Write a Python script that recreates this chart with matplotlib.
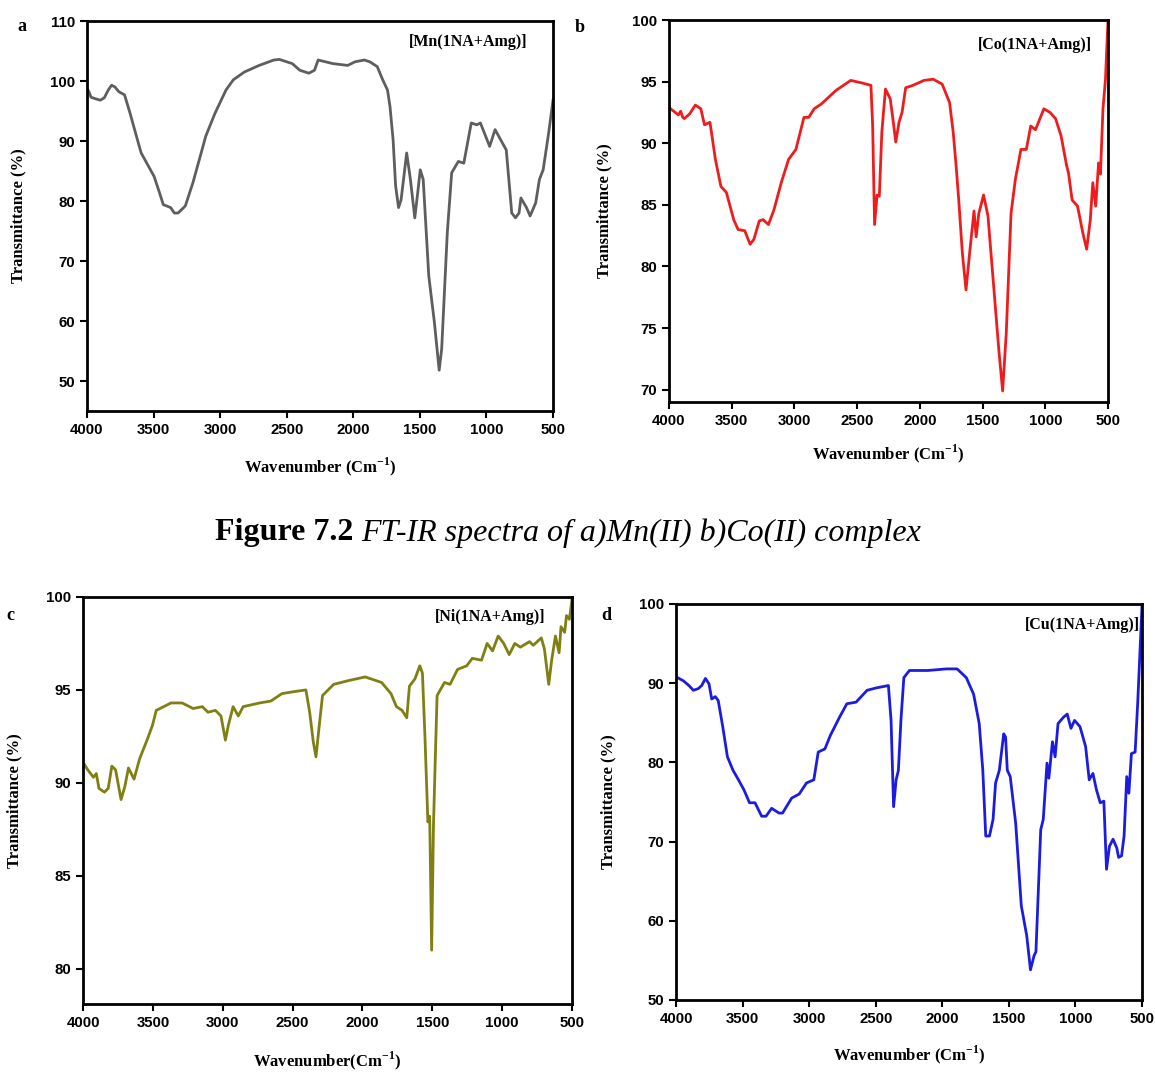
import matplotlib
matplotlib.use('Agg')
from matplotlib import pyplot as plt

# ---- data (wavenumber cm-1, transmittance %) ----
mn_wn = [4000, 3985, 3970, 3930, 3900, 3870, 3840, 3815, 3790, 3760, 3718, 3676, 3621, 3593,
         3538, 3496, 3454, 3427, 3371, 3344, 3316, 3274, 3261, 3205, 3150, 3108, 3039, 2956,
         2901, 2818, 2707, 2596, 2555, 2458, 2402, 2333, 2291, 2264, 2153, 2042, 1987, 1917,
         1876, 1820, 1779, 1743, 1724, 1701, 1682, 1660, 1641, 1599, 1571, 1538, 1516, 1497,
         1475, 1433, 1391, 1355, 1336, 1294, 1261, 1211, 1170, 1114, 1073, 1045, 976, 935,
         893, 851, 810, 782, 755, 741, 699, 672, 630, 602, 574, 533, 500]
mn_t = [98.8, 98.2, 97.3, 97.0, 96.8, 97.2, 98.5, 99.3, 99.0, 98.2, 97.7, 94.6, 90.2, 88.0,
        85.8, 84.1, 81.3, 79.4, 78.9, 78.0, 78.0, 78.9, 79.2, 83.0, 87.4, 90.8, 94.6, 98.5,
        100.2, 101.5, 102.6, 103.5, 103.6, 102.9, 101.8, 101.3, 101.8, 103.5, 102.9, 102.6, 103.2, 103.5,
        103.2, 102.4, 100.2, 98.5, 95.7, 90.2, 82.5, 78.9, 80.2, 88.0, 83.6, 77.2, 81.4, 85.2,
        83.6, 67.5, 59.8, 51.8, 55.4, 74.7, 84.7, 86.6, 86.3, 93.0, 92.7, 93.0, 89.1, 91.9,
        90.2, 88.5, 78.0, 77.2, 78.0, 80.5, 78.9, 77.5, 79.7, 83.6, 85.2, 91.3, 96.8]

co_wn = [4000, 3950, 3925, 3907, 3890, 3877, 3834, 3790, 3746, 3717, 3673, 3630, 3586, 3542,
         3484, 3449, 3396, 3353, 3323, 3280, 3250, 3207, 3163, 3105, 3046, 2988, 2924, 2886,
         2842, 2784, 2667, 2551, 2463, 2390, 2376, 2361, 2341, 2323, 2303, 2274, 2236, 2215,
         2192, 2166, 2142, 2113, 2055, 1967, 1894, 1822, 1763, 1734, 1711, 1690, 1661, 1632,
         1603, 1568, 1551, 1530, 1492, 1457, 1413, 1370, 1340, 1311, 1273, 1238, 1194, 1151,
         1116, 1078, 1011, 962, 918, 874, 830, 815, 786, 743, 700, 670, 641, 621, 598, 575,
         560, 540, 520, 500]
co_t = [92.9, 92.5, 92.3, 92.6, 92.1, 92.0, 92.4, 93.1, 92.8, 91.5, 91.7, 88.7, 86.5, 86.0,
        83.8, 83.0, 82.9, 81.8, 82.2, 83.7, 83.8, 83.4, 84.6, 86.8, 88.7, 89.5, 92.1, 92.1,
        92.8, 93.2, 94.3, 95.1, 94.9, 94.7, 91.4, 83.4, 85.8, 85.7, 90.9, 94.4, 93.6, 92.0,
        90.1, 91.7, 92.5, 94.5, 94.7, 95.1, 95.2, 94.8, 93.3, 90.9, 88.2, 85.4, 81.1, 78.1,
        81.1, 84.5, 82.4, 84.3, 85.8, 84.1, 78.6, 73.2, 69.9, 74.6, 84.3, 87.1, 89.5, 89.5,
        91.4, 91.1, 92.8, 92.5, 92.0, 90.6, 88.2, 87.6, 85.4, 84.9, 82.7, 81.4, 83.8, 86.8, 84.9, 88.4,
        87.5, 92.8, 95.2, 100.0]

ni_wn = [4000, 3966, 3926, 3905, 3886, 3847, 3820, 3794, 3767, 3728, 3701, 3675, 3635, 3595,
         3542, 3503, 3476, 3423, 3370, 3291, 3212, 3146, 3106, 3053, 3013, 2981, 2960, 2926,
         2889, 2854, 2736, 2656, 2577, 2497, 2405, 2378, 2352, 2333, 2312, 2286, 2206, 2101,
         1981, 1863, 1796, 1757, 1717, 1683, 1664, 1624, 1590, 1571, 1553, 1532, 1519, 1505,
         1492, 1479, 1466, 1413, 1373, 1320, 1254, 1214, 1148, 1108, 1069, 1029, 989, 950,
         910, 870, 804, 778, 720, 698, 667, 646, 619, 593, 579, 553, 540, 519, 500]
ni_t = [91.1, 90.7, 90.3, 90.5, 89.7, 89.5, 89.7, 90.9, 90.7, 89.1, 89.8, 90.8, 90.2, 91.3,
        92.3, 93.1, 93.9, 94.1, 94.3, 94.3, 94.0, 94.1, 93.8, 93.9, 93.6, 92.3, 93.1, 94.1,
        93.6, 94.1, 94.3, 94.4, 94.8, 94.9, 95.0, 93.8, 92.2, 91.4, 92.9, 94.7, 95.3, 95.5,
        95.7, 95.4, 94.8, 94.1, 93.9, 93.5, 95.2, 95.6, 96.3, 95.9, 92.5, 87.9, 88.2, 81.0,
        87.7, 91.3, 94.7, 95.4, 95.3, 96.1, 96.3, 96.7, 96.6, 97.5, 97.1, 97.9, 97.5, 96.9,
        97.5, 97.3, 97.6, 97.4, 97.8, 97.2, 95.3, 96.6, 97.9, 97.0, 98.4, 98.1, 99.0, 98.8, 99.9]

cu_wn = [4000, 3945, 3903, 3870, 3834, 3807, 3779, 3752, 3732, 3705, 3683, 3649, 3614, 3572,
         3531, 3489, 3448, 3407, 3357, 3324, 3282, 3227, 3200, 3131, 3075, 3020, 2965, 2932,
         2882, 2841, 2772, 2717, 2648, 2565, 2496, 2405, 2385, 2366, 2347, 2330, 2311, 2289,
         2247, 2109, 1971, 1889, 1820, 1765, 1723, 1696, 1674, 1646, 1619, 1600, 1572, 1539,
         1525, 1512, 1490, 1449, 1407, 1366, 1338, 1311, 1297, 1261, 1242, 1214, 1200, 1173,
         1153, 1131, 1090, 1062, 1034, 1007, 966, 924, 897, 869, 842, 814, 787, 767, 745,
         718, 690, 676, 654, 635, 615, 599, 580, 552, 533, 500]
cu_t = [90.8, 90.3, 89.7, 89.1, 89.3, 89.7, 90.6, 89.9, 88.0, 88.3, 87.8, 84.5, 80.7, 79.0,
        77.8, 76.5, 74.9, 74.9, 73.2, 73.2, 74.2, 73.6, 73.6, 75.5, 76.0, 77.4, 77.8, 81.3,
        81.7, 83.4, 85.7, 87.4, 87.6, 89.1, 89.4, 89.7, 85.3, 74.4, 77.8, 79.0, 85.3, 90.7,
        91.6, 91.6, 91.8, 91.8, 90.7, 88.6, 84.9, 79.0, 70.7, 70.7, 72.8, 77.4, 79.0, 83.6,
        83.2, 79.0, 78.2, 72.3, 61.9, 58.1, 53.8, 55.6, 56.1, 71.5, 72.8, 79.9, 78.0, 82.6,
        80.7, 84.9, 85.7, 86.1, 84.3, 85.3, 84.5, 82.0, 77.8, 78.6, 76.5, 74.9, 75.1, 66.5, 69.4,
        70.3, 69.2, 68.0, 68.2, 70.7, 78.2, 76.1, 81.1, 81.3, 87.4, 99.9]

names = ['[Mn(1NA+Amg)]', '[Co(1NA+Amg)]', '[Ni(1NA+Amg)]', '[Cu(1NA+Amg)]']
letters = ['a', 'b', 'c', 'd']
xlabels = ['Wavenumber (Cm$^{\\mathbf{-1}}$)', 'Wavenumber (Cm$^{\\mathbf{-1}}$)',
           'Wavenumber(Cm$^{\\mathbf{-1}}$)', 'Wavenumber (Cm$^{\\mathbf{-1}}$)']
yticks = [[50, 60, 70, 80, 90, 100, 110], [70, 75, 80, 85, 90, 95, 100],
          [80, 85, 90, 95, 100], [50, 60, 70, 80, 90, 100]]
ylims = [(45, 110), (69, 100), (78.1, 100), (50, 100)]
colors = ['#5e5e5e', '#ee1c1c', '#7f7f12', '#1c1ce0']
series = [(mn_wn, mn_t), (co_wn, co_t), (ni_wn, ni_t), (cu_wn, cu_t)]

# layout (figure fractions) taken from the pixel positions of the reference
positions = [[0.0753, 0.6166, 0.4035, 0.3638],
             [0.5792, 0.6250, 0.3801, 0.3563],
             [0.0719, 0.0634, 0.4234, 0.3797],
             [0.5853, 0.0672, 0.4035, 0.3694]]
name_pos = [(0.818, 0.946), (0.834, 0.935), (0.832, 0.951), (0.873, 0.947)]
letter_pos = [(0.019, 0.975), (0.502, 0.974), (0.009, 0.426), (0.525, 0.426)]
ylab_x = [-0.13, -0.13, -0.125, -0.127]
xlab_y = [-0.113, -0.107, -0.111, -0.109]

plt.rcParams['mathtext.fontset'] = 'custom'
plt.rcParams['mathtext.rm'] = 'Liberation Serif:bold'
plt.rcParams['mathtext.bf'] = 'Liberation Serif:bold'

fig = plt.figure(figsize=(11.55, 10.72), dpi=100)

for i in range(4):
    ax = fig.add_axes(positions[i])
    wn, t = series[i]
    ax.plot(wn, t, color=colors[i], lw=2.0)
    ax.set_xlim(4000, 500)
    ax.set_ylim(*ylims[i])
    ax.set_xticks([4000, 3500, 3000, 2500, 2000, 1500, 1000, 500])
    ax.set_yticks(yticks[i])
    for sp in ax.spines.values():
        sp.set_linewidth(2.0)
    ax.tick_params(direction='out', width=1.5, length=5, labelsize=10.8)
    for lab in ax.get_xticklabels() + ax.get_yticklabels():
        lab.set_fontfamily('Liberation Sans')
        lab.set_fontweight('bold')
    ax.set_ylabel('Transmittance (%)', family='Liberation Serif', weight='bold', fontsize=12)
    ax.set_xlabel(xlabels[i], family='Liberation Serif', weight='bold', fontsize=12, va='top')
    ax.yaxis.set_label_coords(ylab_x[i], 0.5)
    ax.xaxis.set_label_coords(0.5, xlab_y[i])
    ax.text(name_pos[i][0], name_pos[i][1], names[i], transform=ax.transAxes,
            ha='center', va='center', family='Liberation Serif', weight='bold', fontsize=11.5)
    fig.text(letter_pos[i][0], letter_pos[i][1], letters[i], ha='center', va='center',
             family='Liberation Serif', weight='bold', fontsize=13)

# caption between the two rows: bold "Figure 7.2" then italic text right after it
cap1 = fig.text(0.186, 0.503, 'Figure 7.2 ', ha='left', va='center',
                family='Liberation Serif', weight='bold', fontsize=23)
fig.canvas.draw()
bb = cap1.get_window_extent()
fig.text(bb.x1 / fig.bbox.width, 0.503, 'FT-IR spectra of a)Mn(II) b)Co(II) complex',
         ha='left', va='center', family='Liberation Serif', style='italic', fontsize=23)

fig.savefig('out.png', dpi=100)
